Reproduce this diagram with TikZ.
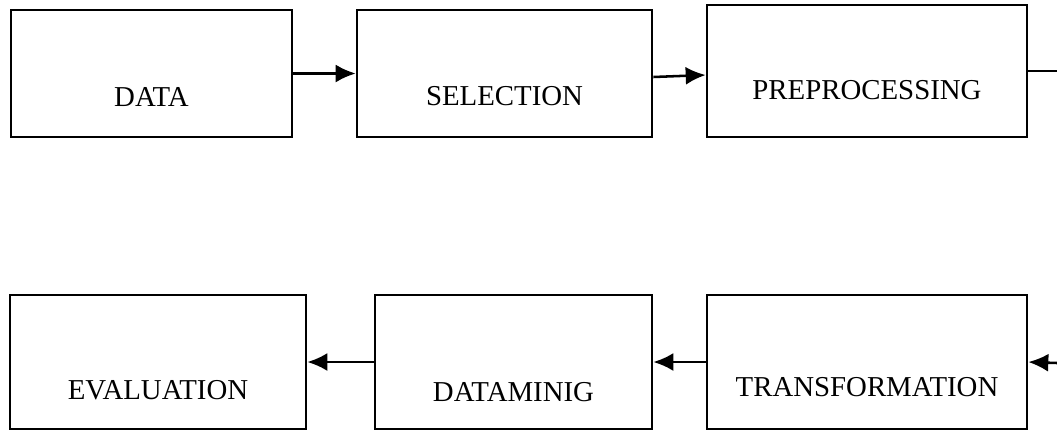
\documentclass[tikz,border=0pt]{standalone}
\usepackage{fontspec}
\setmainfont{Liberation Serif}
\usetikzlibrary{arrows.meta}

\begin{document}
\begin{tikzpicture}[x=0.025cm,y=-0.025cm,
box/.style={draw,line width=1.8pt,rectangle,inner sep=0pt},
lbl/.style={inner sep=0pt,font=\fontsize{20.5}{24}\selectfont},
arr/.style={line width=1.8pt,-{Latex[length=0.5cm,width=0.45cm]}}]
\useasboundingbox (0,0) rectangle (1057,430);
% top row
\node [box,minimum width=7.025cm,minimum height=3.175cm] (data) at (151.5,73.5) {};
\node [box,minimum width=7.375cm,minimum height=3.175cm] (selection) at (504.5,73.5) {};
\node [box,minimum width=8cm,minimum height=3.3cm] (preproc) at (867,71) {};
% bottom row
\node [box,minimum width=7.4cm,minimum height=3.35cm] (evaluation) at (158,362) {};
\node [box,minimum width=6.925cm,minimum height=3.35cm] (datamining) at (513.5,362) {};
\node [box,minimum width=8cm,minimum height=3.35cm] (transf) at (867,362) {};
% texts
\node [lbl] (dataL) at ([yshift=-0.59cm]data.center) {DATA};
\node [lbl] (selectionL) at ([yshift=-0.56cm]selection.center) {SELECTION};
\node [lbl] (preprocL) at ([yshift=-0.475cm]preproc.center) {PREPROCESSING};
\node [lbl] (evaluationL) at ([yshift=-0.7cm]evaluation.center) {EVALUATION};
\node [lbl] (dataminingL) at ([yshift=-0.75cm]datamining.center) {DATAMINIG};
\node [lbl] (transfL) at ([yshift=-0.625cm]transf.center) {TRANSFORMATION};
% connectors
\coordinate (outTop) at (1057,71);
\coordinate (inBot) at (1057,363);
\draw [arr] (data.east) -- (selection.west);
\draw [arr] ([yshift=-0.0875cm]selection.east) -- ([yshift=-0.1cm]preproc.west);
\draw [line width=1.8pt] (preproc.east) -- (outTop);
\draw [arr] (inBot) -- (transf.east);
\draw [arr] (transf.west) -- (datamining.east);
\draw [arr] (datamining.west) -- (evaluation.east);
\end{tikzpicture}
\end{document}
